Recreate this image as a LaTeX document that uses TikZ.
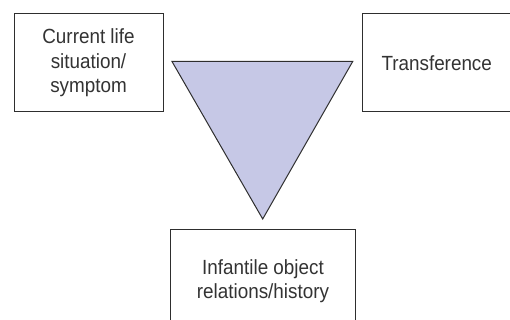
\documentclass[tikz,border=0pt]{standalone}
\usepackage{fontspec}
\setmainfont{Liberation Sans}[FakeStretch=0.92]
\definecolor{linegray}{HTML}{2E2E2E}
\definecolor{textgray}{HTML}{333333}
\definecolor{trifill}{HTML}{C6C8E6}
\begin{document}
\begin{tikzpicture}[x=1pt,y=-1pt,
  box/.style={draw=linegray, line width=1pt, fill=white, align=center,
    text=textgray, font=\fontsize{20.5}{24.5}\selectfont, inner sep=0pt},
  tri/.style={draw=linegray, line width=1pt, fill=trifill, line join=miter}]
\useasboundingbox (0,0) rectangle (510,320);
\clip (0,0) rectangle (510,320);
\node[box, minimum width=149pt, minimum height=98pt] (life) at (88.5,63) {Current life\\situation/\\symptom};
\node[box, minimum width=148pt, minimum height=98pt] (trans) at (436.7,63) {Transference};
\node[box, minimum width=184.3pt, minimum height=104pt] (infant) at (263,281.3) {Infantile object\\relations/history};
\coordinate (tl) at (172,61.5);
\coordinate (tr) at (352.7,61.5);
\coordinate (tb) at (262.7,219);
\draw[tri] (tl) -- (tr) -- (tb) -- cycle;
\end{tikzpicture}
\end{document}
